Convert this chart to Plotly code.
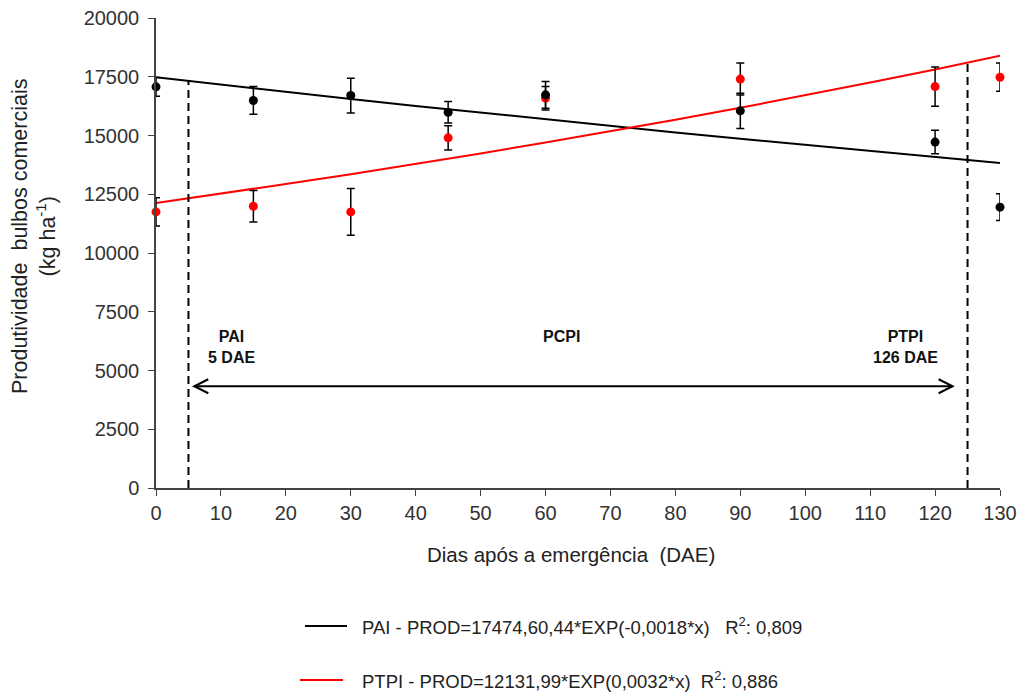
import plotly.graph_objects as go

# ---- data ----
dae = [0, 15, 30, 45, 60, 90, 120, 130]
pai_obs = [17070, 16490, 16700, 15990, 16730, 16050, 14720, 11950]
pai_err = [400, 590, 740, 460, 570, 750, 500, 570]
ptpi_obs = [11750, 11990, 11750, 14900, 16590, 17400, 17080, 17480]
ptpi_err = [600, 670, 990, 520, 500, 680, 830, 600]

fit_x = [0, 10, 20, 30, 40, 50, 60, 70, 80, 90, 100, 110, 120, 130]
pai_fit = [17474, 17162, 16856, 16555, 16260, 15970, 15685, 15405, 15131, 14861, 14596, 14335, 14079, 13828]
ptpi_fit = [12132, 12527, 12934, 13354, 13788, 14237, 14700, 15178, 15672, 16181, 16707, 17251, 17812, 18391]

limit_x = [5, 125]
limit_top = [17320, 18100]
arrow_x = [5.9, 122.7]
arrow_y = 4330

x_ticks = list(range(0, 131, 10))
y_ticks = list(range(0, 20001, 2500))
y_ticktext = [str(v) for v in y_ticks]

pai_label = "PAI - PROD=17474,60,44*EXP(-0,0018*x)\u00a0\u00a0\u00a0R<sup>2</sup>: 0,809"
ptpi_label = "PTPI - PROD=12131,99*EXP(0,0032*x)\u00a0\u00a0R<sup>2</sup>: 0,886"

FONT = "Liberation Sans, Arial, sans-serif"

# plot area in pixels (for placing things in paper coordinates)
L, R, T, B = 156, 1000, 18, 488
def px(x):
    return (x - L) / (R - L)
def py(y):
    return (B - y) / (B - T)

fig = go.Figure()

# fitted curves
fig.add_trace(go.Scatter(x=fit_x, y=pai_fit, mode="lines", name=pai_label, showlegend=False,
                         line=dict(color="black", width=2)))
fig.add_trace(go.Scatter(x=fit_x, y=ptpi_fit, mode="lines", name=ptpi_label, showlegend=False,
                         line=dict(color="#ff0000", width=2)))

# observed points with error bars
fig.add_trace(go.Scatter(x=dae, y=ptpi_obs, mode="markers", showlegend=False,
                         marker=dict(color="#ff0000", size=9),
                         error_y=dict(type="data", array=ptpi_err, color="black", thickness=1.5, width=4),
                         cliponaxis=False))
fig.add_trace(go.Scatter(x=dae, y=pai_obs, mode="markers", showlegend=False,
                         marker=dict(color="black", size=9),
                         error_y=dict(type="data", array=pai_err, color="black", thickness=1.5, width=4),
                         cliponaxis=False))

# dashed limit lines
for lx, lt in zip(limit_x, limit_top):
    fig.add_shape(type="line", x0=lx, x1=lx, y0=0, y1=lt, xref="x", yref="y",
                  line=dict(color="black", width=2, dash="8px,5px"))

# double arrow
fig.add_shape(type="line", x0=arrow_x[0], x1=arrow_x[1], y0=arrow_y, y1=arrow_y,
              line=dict(color="black", width=2))
fig.add_shape(type="path", xref="x", yref="y", xsizemode="pixel", ysizemode="pixel",
              xanchor=arrow_x[0], yanchor=arrow_y, path="M 14,7 L 0,0 L 14,-7",
              line=dict(color="black", width=2))
fig.add_shape(type="path", xref="x", yref="y", xsizemode="pixel", ysizemode="pixel",
              xanchor=arrow_x[1], yanchor=arrow_y, path="M -14,7 L 0,0 L -14,-7",
              line=dict(color="black", width=2))

# period labels
labels = [(11.6, "PAI<br>5 DAE"), (62.5, "PCPI"), (115.5, "PTPI<br>126 DAE")]
for lx, txt in labels:
    fig.add_annotation(x=lx, y=6900, xref="x", yref="y", text="<b>" + txt + "</b>",
                       showarrow=False, xanchor="center", yanchor="top",
                       font=dict(family=FONT, size=16, color="#111"))

# axis titles
fig.add_annotation(xref="paper", yref="paper", x=px(571), y=py(554), xanchor="center",
                   yanchor="middle", text="Dias após a emergência\u00a0\u00a0(DAE)", showarrow=False,
                   font=dict(family=FONT, size=20.5, color="#222"))
fig.add_annotation(xref="paper", yref="paper", x=px(34), y=py(236), xanchor="center",
                   yanchor="middle",
                   text="Produtividade\u00a0 bulbos comerciais<br>(kg ha<sup>-1</sup>)", showarrow=False,
                   textangle=-90, font=dict(family=FONT, size=21.5, color="#222"))

# legend (drawn manually)
legend_rows = [(626, 305, 347, "black", pai_label), (680, 300, 343, "#ff0000", ptpi_label)]
for yy, x0, x1, col, txt in legend_rows:
    fig.add_shape(type="line", xref="paper", yref="paper", x0=px(x0), x1=px(x1),
                  y0=py(yy), y1=py(yy), line=dict(color=col, width=2))
    fig.add_annotation(xref="paper", yref="paper", x=px(360), y=py(yy), xanchor="left",
                       yanchor="middle", text=txt, showarrow=False,
                       font=dict(family=FONT, size=18.5, color="#222"))

fig.update_layout(
    width=1021, height=696,
    margin=dict(l=L, r=1021 - R, t=T, b=696 - B, autoexpand=False),
    paper_bgcolor="white", plot_bgcolor="white",
    font=dict(family=FONT, size=18, color="#222"),
    showlegend=False,
    xaxis=dict(range=[0, 130], tickvals=x_ticks, ticks="outside", ticklen=6, tickcolor="#444",
               showline=True, linecolor="#444", linewidth=1.5, showgrid=False, zeroline=False,
               tickfont=dict(family=FONT, size=20, color="#333")),
    yaxis=dict(range=[0, 20000], tickvals=y_ticks, ticktext=y_ticktext, ticks="outside", ticklen=6,
               tickcolor="#444", showline=True, linecolor="#444", linewidth=1.5, showgrid=False,
               zeroline=False, ticklabelstandoff=5, tickfont=dict(family=FONT, size=20, color="#333")),
)

fig.write_html("out.html", config={"displayModeBar": False},
               post_script="document.body.style.margin='0px';")
